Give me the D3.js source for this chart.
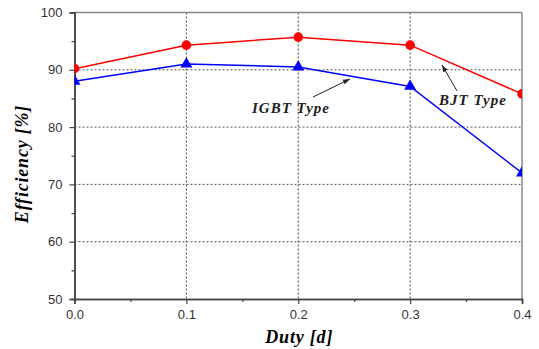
<!DOCTYPE html>
<html>
<head>
<meta charset="utf-8">
<script src="https://cdn.jsdelivr.net/npm/d3@7"></script>
<style>
  body { margin: 0; background: #fff; }
  svg { display: block; }
</style>
</head>
<body>
<div id="chart"></div>
<script>
// duty values and efficiencies
var duty = [0.0, 0.1, 0.2, 0.3, 0.4];
var bjt = [90.2, 94.3, 95.7, 94.3, 85.8];
var igbt = [88.0, 91.0, 90.5, 87.1, 72.0];
var xTicks = [0.0, 0.1, 0.2, 0.3, 0.4];
var yTicks = [50, 60, 70, 80, 90, 100];

var W = 539, H = 349;
var margin = {top: 12.5, right: 17, bottom: 50, left: 74.5},
    width = W - margin.left - margin.right,
    height = H - margin.top - margin.bottom;

var svg = d3.select("#chart").append("svg")
    .attr("width", W).attr("height", H);

var g = svg.append("g")
    .attr("transform", "translate(" + margin.left + "," + margin.top + ")");

var x = d3.scaleLinear().domain([0, 0.4]).range([0, width]);
var y = d3.scaleLinear().domain([50, 100]).range([height, 0]);

g.append("defs").append("clipPath").attr("id", "plotclip")
  .append("rect").attr("width", width).attr("height", height);

// grid
g.selectAll(".hgrid")
  .data(yTicks.filter(d => d > 50 && d < 100))
  .enter().append("line")
    .attr("x1", 0).attr("x2", width)
    .attr("y1", d => y(d)).attr("y2", d => y(d))
    .attr("stroke", "#555").attr("stroke-width", 1)
    .attr("stroke-dasharray", "2,2");
g.selectAll(".vgrid")
  .data(xTicks.filter(d => d > 0 && d < 0.4))
  .enter().append("line")
    .attr("x1", d => x(d)).attr("x2", d => x(d))
    .attr("y1", 0).attr("y2", height)
    .attr("stroke", "#444").attr("stroke-width", 1)
    .attr("stroke-dasharray", "2,2");

// frame top/right
g.append("line").attr("x1", 0).attr("x2", width).attr("y1", 0).attr("y2", 0)
  .attr("stroke", "#888").attr("stroke-width", 1.5);
g.append("line").attr("x1", width).attr("x2", width).attr("y1", 0).attr("y2", height)
  .attr("stroke", "#888").attr("stroke-width", 1.5);

// axes
var yAxis = g.append("g")
  .call(d3.axisLeft(y).tickValues(yTicks).tickSize(5).tickPadding(7).tickFormat(d3.format("d")));
var yMinor = g.append("g")
  .call(d3.axisLeft(y).tickValues([55, 65, 75, 85, 95]).tickSize(3).tickFormat(""));
var xAxis = g.append("g")
  .attr("transform", "translate(0," + height + ")")
  .call(d3.axisBottom(x).tickValues(xTicks).tickSize(5).tickPadding(3).tickFormat(d3.format(".1f")));
var xMinor = g.append("g")
  .attr("transform", "translate(0," + height + ")")
  .call(d3.axisBottom(x).tickValues([0.05, 0.15, 0.25, 0.35]).tickSize(3).tickFormat(""));

[yAxis, yMinor, xAxis, xMinor].forEach(function(a) {
  a.select(".domain").attr("stroke", "#444").attr("stroke-width", 1.5);
  a.selectAll(".tick line").attr("stroke", "#444").attr("stroke-width", 1.2);
  a.selectAll(".tick text")
    .attr("fill", "#333")
    .style("font-family", "'Liberation Sans', Arial, sans-serif")
    .style("font-size", "13px");
});
xAxis.selectAll(".tick text").attr("dy", "0.9em");

// series
var line = d3.line().x((d, i) => x(duty[i])).y(d => y(d));
var plot = g.append("g").attr("clip-path", "url(#plotclip)");

plot.append("path").datum(bjt)
  .attr("d", line).attr("fill", "none")
  .attr("stroke", "#ff0000").attr("stroke-width", 1.5);
plot.append("path").datum(igbt)
  .attr("d", line).attr("fill", "none")
  .attr("stroke", "#0000ff").attr("stroke-width", 1.5);

plot.selectAll(".bjtpt").data(bjt).enter().append("circle")
  .attr("cx", (d, i) => x(duty[i])).attr("cy", d => y(d))
  .attr("r", 4.8).attr("fill", "#ff0000");

var tri = d3.symbol().type(d3.symbolTriangle).size(62);
plot.selectAll(".igbtpt").data(igbt).enter().append("path")
  .attr("d", tri)
  .attr("transform", (d, i) => "translate(" + x(duty[i]) + "," + y(d) + ")")
  .attr("fill", "#0000ff");

// annotations
var labelFont = "'Liberation Serif', 'Times New Roman', serif";
svg.append("defs").append("marker")
  .attr("id", "arrow").attr("viewBox", "0 0 10 10")
  .attr("refX", 10).attr("refY", 5)
  .attr("markerWidth", 7).attr("markerHeight", 7)
  .attr("orient", "auto")
  .append("path").attr("d", "M0,1.5L10,5L0,8.5Z").attr("fill", "#222");

function note(text, tx, ty, ax1, ay1, ax2, ay2) {
  svg.append("line")
    .attr("x1", ax1).attr("y1", ay1).attr("x2", ax2).attr("y2", ay2)
    .attr("stroke", "#222").attr("stroke-width", 1)
    .attr("marker-end", "url(#arrow)");
  svg.append("text")
    .attr("x", tx).attr("y", ty)
    .attr("text-anchor", "middle")
    .style("font-family", labelFont)
    .style("font-weight", "bold").style("font-style", "italic")
    .style("font-size", "15px").style("letter-spacing", "1px")
    .attr("fill", "#222")
    .text(text);
}
note("IGBT Type", 291, 113, 313, 97, 350, 79);
note("BJT Type", 473, 105, 457, 91, 442, 65);

// axis titles
function title(sel) {
  return sel.attr("text-anchor", "middle")
    .style("font-family", labelFont)
    .style("font-weight", "bold").style("font-style", "italic")
    .style("font-size", "18px").style("letter-spacing", "0.8px")
    .attr("fill", "#000");
}
title(svg.append("text")
  .attr("x", margin.left + width / 2 + 1).attr("y", 343))
  .text("Duty [d]");
title(svg.append("text")
  .attr("transform", "translate(28,164) rotate(-90)"))
  .text("Efficiency [%]");
</script>
</body>
</html>
